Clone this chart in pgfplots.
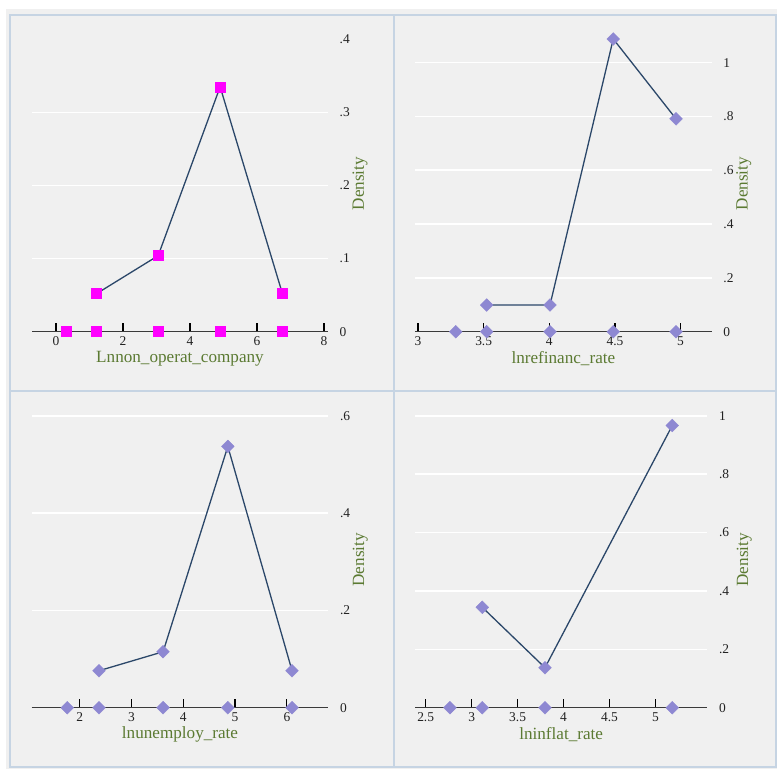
\documentclass[border=0pt]{standalone}
\usepackage{fontspec}
\setmainfont{Liberation Serif}
\usepackage{pgfplots}
\pgfplotsset{compat=1.18}
\definecolor{bg}{HTML}{F0F0F0}
\definecolor{bord}{HTML}{C6D4E3}
\definecolor{linec}{HTML}{2B4769}
\definecolor{magc}{HTML}{FF00FF}
\definecolor{diac}{HTML}{8E88D2}
\definecolor{labc}{HTML}{5B7A32}
\definecolor{axisc}{HTML}{3A3A3A}
\definecolor{tickc}{HTML}{222222}
\newcommand\ticksz{\fontsize{13.5}{15}\selectfont}
\newcommand\labsz{\fontsize{17.2}{19}\selectfont}
\pgfplotsset{
  panel/.style={
    scale only axis, enlargelimits=false, clip=false,
    height=307bp, ymin=0,
    axis x line=bottom, axis y line=right,
    axis line style={-},
    x axis line style={draw=axisc, line width=1.5bp},
    y axis line style={draw=none},
    xtick align=inside,
    major tick length=9bp,
    xtick style={draw=black, line width=1.2bp},
    ytick style={draw=none},
    minor tick num=0,
    ymajorgrids,
    major grid style={white, line width=1.5bp},
    extra y tick style={grid=none, ytick style={draw=none}},
    xticklabel style={anchor=north, inner sep=0pt, yshift=-5bp, font=\ticksz, text=tickc},
    yticklabel style={anchor=west, inner sep=0pt, xshift=7bp, font=\ticksz, text=tickc},
    every axis x label/.style={at={(axis description cs:0.5,0)}, anchor=center, yshift=-26.6bp, font=\labsz, text=labc},
    every axis y label/.style={at={(axis description cs:1,0.482)}, xshift=32bp, anchor=center, rotate=90, font=\labsz, text=labc},
    ylabel={Density},
  },
  topline/.style={color=linec, line width=1.3bp},
  sqm/.style={mark=square*, mark size=5bp, mark options={solid, draw=magc, line width=0.4bp, fill=magc}},
  dim/.style={mark=square*, mark size=4.5bp, mark options={solid, rotate=45, draw=diac, line width=0.4bp, fill=diac}},
}
\begin{document}
\begin{tikzpicture}[x=1bp,y=1bp]
\path[use as bounding box] (0,0) rectangle (777,769);
\fill[white] (0,0) rectangle (777,769);
\fill[bg] (6,0) rectangle (777,760);
\draw[bord, fill=bg, line width=1.5bp] (10,378) rectangle (394,754);
\draw[bord, fill=bg, line width=1.5bp] (394,378) rectangle (776,754);
\draw[bord, fill=bg, line width=1.5bp] (10,2) rectangle (394,378);
\draw[bord, fill=bg, line width=1.5bp] (394,2) rectangle (776,378);

% Panel 1
\begin{axis}[panel, at={(32bp,437.3bp)}, anchor=south west,
  width=296bp, xmin=-0.716, xmax=8.12, ymax=0.42,
  xtick={0,2,4,6,8}, xticklabels={0,2,4,6,8},
  ytick={0.1,0.2,0.3}, yticklabels={.1,.2,.3},
  extra y ticks={0,0.4}, extra y tick labels={0,.4},
  xlabel={Lnnon\_operat\_company}]
\addplot[topline, sqm] coordinates {(1.21,0.052) (3.05,0.104) (4.90,0.335) (6.76,0.052)};
\addplot[only marks, sqm] coordinates {(0.30,0) (1.21,0) (3.05,0) (4.90,0) (6.76,0)};
\end{axis}

% Panel 2
\begin{axis}[panel, at={(415bp,437.3bp)}, anchor=south west,
  width=296.7bp, xmin=2.977, xmax=5.237, ymax=1.141,
  xtick={3,3.5,4,4.5,5}, xticklabels={3,3.5,4,4.5,5},
  ytick={0.2,0.4,0.6,0.8,1}, yticklabels={.2,.4,.6,.8,1},
  extra y ticks={0}, extra y tick labels={0},
  xlabel={lnrefinanc\_rate}]
\addplot[topline, dim] coordinates {(3.523,0.099) (4.005,0.099) (4.487,1.088) (4.965,0.791)};
\addplot[only marks, dim] coordinates {(3.287,0) (3.523,0) (4.005,0) (4.487,0) (4.965,0)};
\end{axis}

% Panel 3
\begin{axis}[panel, at={(31.7bp,61.3bp)}, anchor=south west,
  width=296.6bp, xmin=1.073, xmax=6.80, ymax=0.631,
  xtick={2,3,4,5,6}, xticklabels={2,3,4,5,6},
  ytick={0.2,0.4,0.6}, yticklabels={.2,.4,.6},
  extra y ticks={0}, extra y tick labels={0},
  xlabel={lnunemploy\_rate}]
\addplot[topline, dim] coordinates {(2.373,0.076) (3.61,0.115) (4.86,0.537) (6.10,0.076)};
\addplot[only marks, dim] coordinates {(1.76,0) (2.373,0) (3.61,0) (4.86,0) (6.10,0)};
\end{axis}

% Panel 4
\begin{axis}[panel, at={(415bp,61.3bp)}, anchor=south west,
  width=292.3bp, xmin=2.384, xmax=5.564, ymax=1.052,
  xtick={2.5,3,3.5,4,4.5,5}, xticklabels={2.5,3,3.5,4,4.5,5},
  ytick={0.2,0.4,0.6,0.8,1}, yticklabels={.2,.4,.6,.8,1},
  extra y ticks={0}, extra y tick labels={0},
  every axis y label/.style={at={(axis description cs:1,0.482)}, xshift=37bp, anchor=center, rotate=90, font=\labsz, text=labc},
  xlabel={lninflat\_rate}]
\addplot[topline, dim] coordinates {(3.116,0.344) (3.798,0.137) (5.183,0.967)};
\addplot[only marks, dim] coordinates {(2.764,0) (3.116,0) (3.798,0) (5.183,0)};
\end{axis}
\end{tikzpicture}
\end{document}
